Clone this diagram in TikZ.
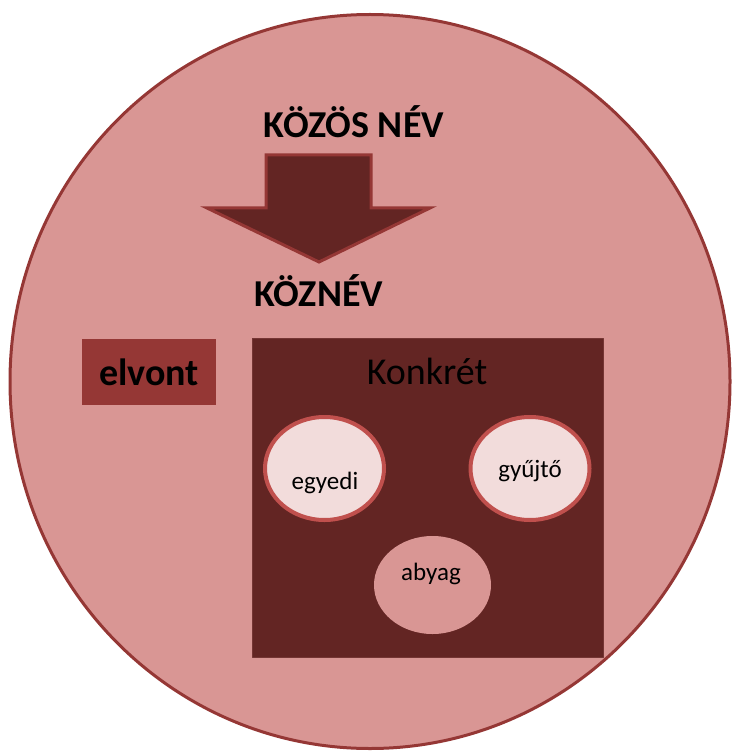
\documentclass[tikz,border=0pt]{standalone}
\usepackage{fontspec}
\setmainfont{Carlito}
\usetikzlibrary{shapes.geometric}
\definecolor{rosa}{HTML}{D99694}
\definecolor{bordo}{HTML}{953735}
\definecolor{sotet}{HTML}{632523}
\definecolor{halvany}{HTML}{F2DCDB}
\definecolor{piros}{HTML}{C0504D}
\tikzset{
	cim/.style={font=\bfseries\fontsize{38}{44}\selectfont, anchor=base, inner sep=0pt},
	kis/.style={font=\fontsize{25}{30}\selectfont, anchor=base, inner sep=0pt},
	tojas/.style={ellipse, minimum width=119, minimum height=103, inner sep=0pt, fill=halvany, draw=piros, line width=4pt}
}
\begin{document}
\begin{tikzpicture}[x=1pt, y=-1pt, line join=round]
	\useasboundingbox (0,0) rectangle (732,751);
	% nagy kor
	\draw[fill=rosa, draw=bordo, line width=3pt] (370,381.5) ellipse [x radius=360, y radius=367];
	% nyil
	\draw[fill=sotet, draw=bordo, line width=3pt, line join=miter] (266,155) -- (371,155) -- (371,208) -- (430,208)
		-- (319,262) -- (207,208) -- (266,208) -- cycle;
	\node[cim] (kozos) at (354,138) {KÖZÖS NÉV};
	\node[cim] (koznev) at (319,306) {KÖZNÉV};
	\node[fill=bordo, minimum width=134, minimum height=66, inner sep=0pt, font=\bfseries\fontsize{38}{44}\selectfont] (elvont) at (149,372) {elvont};
	\node[fill=sotet, draw=sotet!85!rosa, line width=0.8pt, minimum width=351, minimum height=319, inner sep=0pt] (konkret) at (427.5,497.5) {};
	\node[anchor=base, inner sep=0pt, font=\fontsize{38}{44}\selectfont] (konkretfelirat) at (427,384) {Konkrét};
	\node[tojas] (egyedi) at (324.5,468.5) {};
	\node[tojas] (gyujto) at (530,468.5) {};
	\node[ellipse, fill=rosa, minimum width=117, minimum height=98, inner sep=0pt] (anyag) at (432.5,585) {};
	\node[kis] (egyedifelirat) at (325,489) {egyedi};
	\node[kis] (gyujtofelirat) at (530,477) {gyűjtő};
	\node[kis] (anyagfelirat) at (431,580) {abyag};
\end{tikzpicture}
\end{document}
